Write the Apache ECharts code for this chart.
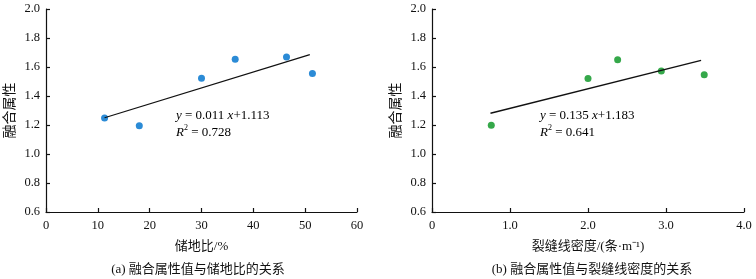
<!DOCTYPE html>
<html><head><meta charset="utf-8">
<script src="https://cdn.jsdelivr.net/npm/echarts@6/dist/echarts.min.js"></script>
<style>html,body{margin:0;padding:0;background:#fff}#c{width:756px;height:279px}</style>
</head><body><div id="c"></div>
<script>
// Panel (a): fused attribute vs net-to-gross ratio
const aX = [11.3, 18.0, 30.0, 36.5, 46.4, 51.4];
const aY = [1.248, 1.195, 1.522, 1.653, 1.669, 1.556];
const aFitX = [11.3, 50.9];
const aFitY = [1.250, 1.685];
// Panel (b): fused attribute vs fracture line density
const bX = [0.76, 2.00, 2.38, 2.94, 3.49];
const bY = [1.198, 1.520, 1.650, 1.572, 1.547];
const bFitX = [0.75, 3.45];
const bFitY = [1.281, 1.646];
const yTicks = ['0.6','0.8','1.0','1.2','1.4','1.6','1.8','2.0'];
const aXTicks = ['0','10','20','30','40','50','60'];
const bXTicks = ['0','1.0','2.0','3.0','4.0'];
const yName = '融合属性';
const aXName = '储地比/%';
const bXName = '裂缝线密度/(条·m⁻¹)';
const aCaption = '(a) 融合属性值与储地比的关系';
const bCaption = '(b) 融合属性值与裂缝线密度的关系';
const aEq = ['y', ' = 0.011 ', 'x', '+1.113'];
const aR2 = '0.728';
const bEq = ['y', ' = 0.135 ', 'x', '+1.183'];
const bR2 = '0.641';

const SERIF = '"Liberation Serif","Noto Sans CJK SC",serif';
const zip = (xs, ys) => xs.map((x, i) => [x, ys[i]]);
const axisCommon = {
  axisLine: {lineStyle: {color: '#111', width: 1.2}},
  axisTick: {inside: true, length: 4, lineStyle: {color: '#111', width: 1.2}},
  splitLine: {show: false},
  axisLabel: {color: '#111', fontFamily: SERIF, fontSize: 12.5},
  nameTextStyle: {color: '#111', fontFamily: SERIF, fontSize: 13}
};
function yAxis(idx) {
  return Object.assign({}, axisCommon, {
    type: 'value', gridIndex: idx, min: 0.6, max: 2.0, interval: 0.2,
    name: yName, nameLocation: 'middle', nameGap: 29, nameRotate: 90,
    nameTextStyle: Object.assign({}, axisCommon.nameTextStyle, {fontSize: 14}),
    axisLabel: Object.assign({}, axisCommon.axisLabel, {margin: 6,
      formatter: v => yTicks[Math.round((v - 0.6) / 0.2)]})
  });
}
const fmtEq = (eq, r2) => '{i|' + eq[0] + '}{n|' + eq[1] + '}{i|' + eq[2] + '}{n|' + eq[3] + '}\n{i|R}{s|2}{n| = ' + r2 + '}';
const rich = {
  i: {fontFamily: SERIF, fontStyle: 'italic', fontSize: 13, color: '#111', lineHeight: 17},
  n: {fontFamily: SERIF, fontSize: 13, color: '#111', lineHeight: 17},
  s: {fontFamily: SERIF, fontSize: 8, color: '#111', verticalAlign: 'top', lineHeight: 17, padding: [0,0,6,0]}
};
const chart = echarts.init(document.getElementById('c'));
chart.setOption({
  animation: false,
  grid: [
    {left: 46, right: 399, top: 9, bottom: 67},
    {left: 432, right: 12, top: 9, bottom: 67}
  ],
  xAxis: [
    Object.assign({}, axisCommon, {type: 'value', gridIndex: 0, min: 0, max: 60, interval: 10,
      name: aXName, nameLocation: 'middle', nameGap: 28,
      axisLabel: Object.assign({}, axisCommon.axisLabel, {margin: 7, formatter: v => aXTicks[Math.round(v / 10)]})}),
    Object.assign({}, axisCommon, {type: 'value', gridIndex: 1, min: 0, max: 4, interval: 1,
      name: bXName, nameLocation: 'middle', nameGap: 28,
      axisLabel: Object.assign({}, axisCommon.axisLabel, {margin: 7, formatter: v => bXTicks[Math.round(v)]})})
  ],
  yAxis: [yAxis(0), yAxis(1)],
  title: [
    {text: aCaption, left: 193, top: 258, textAlign: 'center',
     textStyle: {fontFamily: SERIF, fontSize: 13, fontWeight: 'normal', color: '#111'}},
    {text: bCaption, left: 587, top: 258, textAlign: 'center',
     textStyle: {fontFamily: SERIF, fontSize: 13, fontWeight: 'normal', color: '#111'}}
  ],
  graphic: [
    {type: 'text', left: 176, top: 109, style: {text: fmtEq(aEq, aR2), rich: rich}},
    {type: 'text', left: 540, top: 109, style: {text: fmtEq(bEq, bR2), rich: rich}}
  ],
  series: [
    {type: 'line', xAxisIndex: 0, yAxisIndex: 0, data: zip(aFitX, aFitY), symbol: 'none',
     lineStyle: {color: '#111', width: 1.3}},
    {type: 'scatter', xAxisIndex: 0, yAxisIndex: 0, data: zip(aX, aY), symbolSize: 7,
     itemStyle: {color: '#2b8bd6', opacity: 1}},
    {type: 'line', xAxisIndex: 1, yAxisIndex: 1, data: zip(bFitX, bFitY), symbol: 'none',
     lineStyle: {color: '#111', width: 1.3}},
    {type: 'scatter', xAxisIndex: 1, yAxisIndex: 1, data: zip(bX, bY), symbolSize: 7,
     itemStyle: {color: '#35a84a', opacity: 1}}
  ]
});
</script></body></html>
